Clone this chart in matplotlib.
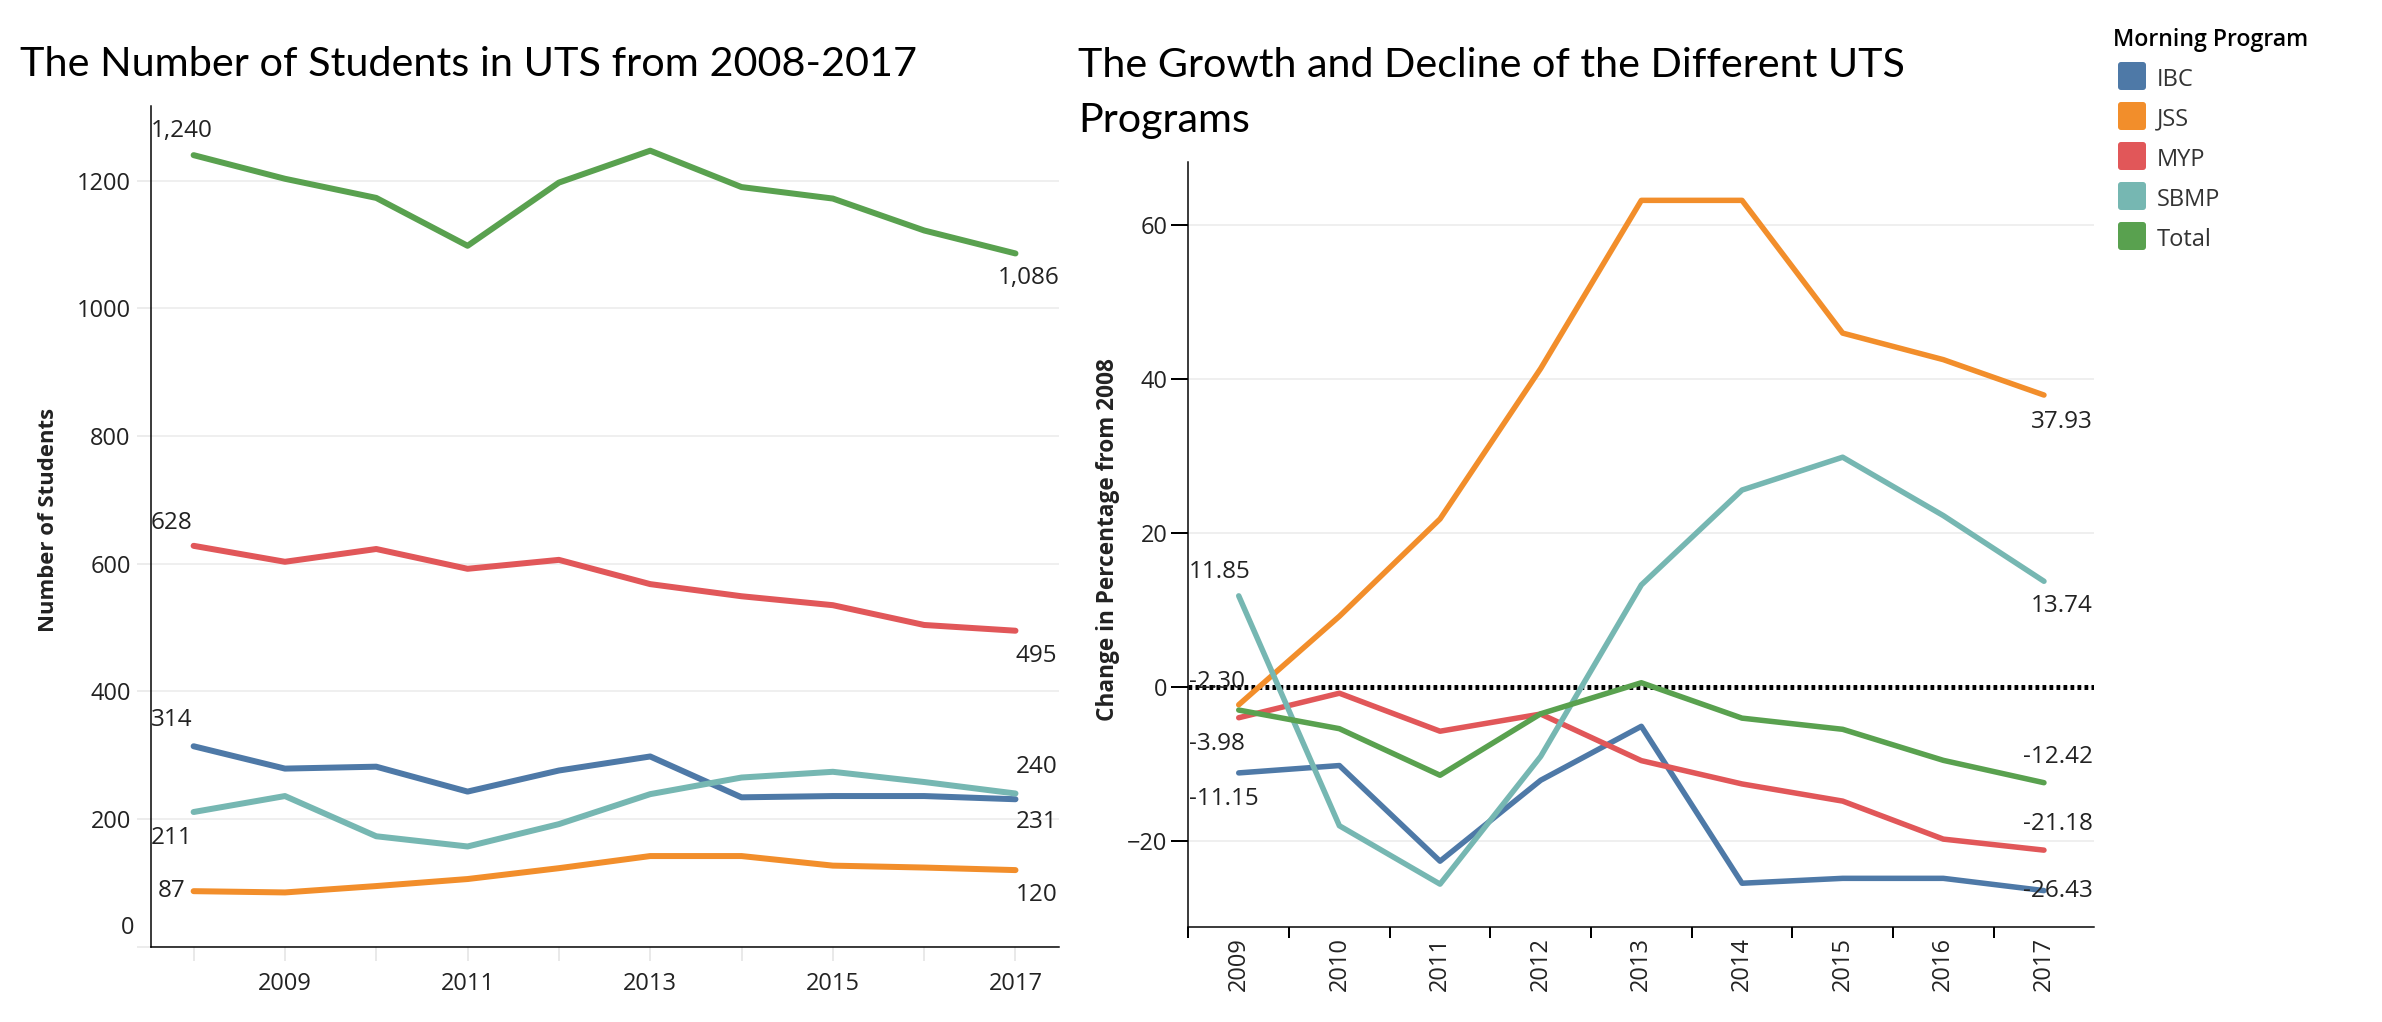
import matplotlib
matplotlib.use("Agg")
import matplotlib.pyplot as plt
from matplotlib.patches import FancyBboxPatch
from matplotlib.transforms import IdentityTransform

# ---------------- data ----------------
years = [2008, 2009, 2010, 2011, 2012, 2013, 2014, 2015, 2016, 2017]
programs = ["IBC", "JSS", "MYP", "SBMP", "Total"]
ibc = [314, 279, 282, 243, 276, 298, 234, 236, 236, 231]
jss = [87, 85, 95, 106, 123, 142, 142, 127, 124, 120]
myp = [628, 603, 623, 592, 606, 568, 549, 535, 504, 495]
sbmp = [211, 236, 173, 157, 192, 239, 265, 274, 258, 240]
total = [1240, 1203, 1173, 1098, 1197, 1247, 1190, 1172, 1122, 1086]
series = {"IBC": ibc, "JSS": jss, "MYP": myp, "SBMP": sbmp, "Total": total}
colors = {"IBC": "#4e79a7", "JSS": "#f28e2b", "MYP": "#e15759",
          "SBMP": "#76b7b2", "Total": "#59a14f"}

left_yticks = [0, 200, 400, 600, 800, 1000, 1200]
right_yticks = [-20, 0, 20, 40, 60]
change_years = years[1:]

W, H = 2382, 1022
fig = plt.figure(figsize=(W / 100, H / 100), dpi=100)

NUM = "Open Sans"
TXT = "#222222"
TICK_FS = 17
VAL_FS = 17.5

def px(v):
    return v * 72 / 100.0

def box(l, t, r, b):
    return [l / W, 1 - b / H, (r - l) / W, (b - t) / H]

axL = fig.add_axes(box(150.7, 106, 1059.3, 946.7))
axR = fig.add_axes(box(1188.4, 162, 2094.3, 927.3))

# ---------------- left chart ----------------
for p in programs:
    axL.plot(years, series[p], color=colors[p], lw=px(6), solid_capstyle="round",
             solid_joinstyle="round", zorder=3)
axL.set_xlim(2007.53, 2017.48)
axL.set_ylim(0, 1317)
axL.set_yticks(left_yticks)
axL.set_yticklabels(["" if v == 0 else str(v) for v in left_yticks])
axL.set_xticks(years)
axL.set_xticklabels([str(y) if y % 2 == 1 else "" for y in years])
axL.tick_params(axis="y", length=10, width=px(2), color="#ececec", pad=px(6),
                labelsize=TICK_FS, labelcolor=TXT)
axL.tick_params(axis="x", length=10, width=px(1.5), color="#e3e3e3", pad=px(11),
                labelsize=TICK_FS, labelcolor=TXT)
for lbl in axL.get_xticklabels() + axL.get_yticklabels():
    lbl.set_fontfamily(NUM)
axL.annotate("0", xy=(0, 0), xycoords=("axes fraction", "data"), xytext=(-16.7, 19),
             textcoords="offset pixels", ha="right", va="center", fontsize=TICK_FS,
             family=NUM, color=TXT)
axL.grid(axis="y", color="#efefef", lw=px(2), zorder=0)
for s in ["top", "right"]:
    axL.spines[s].set_visible(False)
for s in ["left", "bottom"]:
    axL.spines[s].set_color("black")
    axL.spines[s].set_linewidth(px(1.5))
ylabL = axL.set_ylabel("Number of Students", fontsize=14, fontweight="bold",
                       family=NUM, color=TXT, va="center")
axL.yaxis.set_label_coords(-102 / 908.6, 0.5 + (526 - 520) / 840.7)

# value labels left chart
startL = {"Total": (-43, 24, "left"), "MYP": (-43, 23, "left"), "IBC": (-43, 26, "left"),
          "SBMP": (-43, -26, "left"), "JSS": (-8, 0, "right")}
endL = {"Total": (44, -25), "MYP": (42, -25), "SBMP": (42, 26), "IBC": (42, -23),
        "JSS": (42, -25)}
for p in programs:
    v0 = series[p][0]
    dx, dy, ha = startL[p]
    axL.annotate(f"{v0:,}", xy=(years[0], v0), xytext=(dx, dy), textcoords="offset pixels",
                 ha=ha, va="center", fontsize=VAL_FS, family=NUM, color=TXT, zorder=5)
    v1 = series[p][-1]
    dx, dy = endL[p]
    axL.annotate(f"{v1:,}", xy=(years[-1], v1), xytext=(dx, dy), textcoords="offset pixels",
                 ha="right", va="center", fontsize=VAL_FS, family=NUM, color=TXT, zorder=5)

# ---------------- right chart ----------------
xpos = list(range(len(change_years)))
pct = {}
for p in programs:
    base = series[p][0]
    pct[p] = [(v / base - 1) * 100 for v in series[p][1:]]
axR.axhline(0, color="black", lw=px(5), linestyle=(0, (0.75, 0.65)), zorder=2)
for p in programs:
    axR.plot(xpos, pct[p], color=colors[p], lw=px(5.5), solid_capstyle="round",
             solid_joinstyle="round", zorder=3)
axR.set_xlim(-0.5, len(change_years) - 0.5)
axR.set_ylim(-31.2, 68.2)
axR.set_yticks(right_yticks)
axR.set_xticks(xpos)
axR.set_xticklabels([str(y) for y in change_years], rotation=90)
axR.set_xticks([i - 0.5 for i in range(len(change_years))], minor=True)
axR.tick_params(axis="x", which="major", length=0, pad=px(9.5), labelsize=TICK_FS,
                labelcolor=TXT)
axR.tick_params(axis="x", which="minor", length=8, width=px(2), color="black")
axR.tick_params(axis="y", length=12, width=px(2), color="black", pad=px(4),
                labelsize=TICK_FS, labelcolor=TXT)
for lbl in axR.get_xticklabels() + axR.get_yticklabels():
    lbl.set_fontfamily(NUM)
axR.grid(axis="y", color="#efefef", lw=px(2), zorder=0)
for s in ["top", "right"]:
    axR.spines[s].set_visible(False)
for s in ["left", "bottom"]:
    axR.spines[s].set_color("black")
    axR.spines[s].set_linewidth(px(1.5))
ylabR = axR.set_ylabel("Change in Percentage from 2008", fontsize=14, fontweight="bold",
                       family=NUM, color=TXT, va="center")
axR.yaxis.set_label_coords(-80 / 905.9, 0.5 + (544.6 - 540) / 765.3)

startR = {"SBMP": (-50, 24), "JSS": (-50, 23), "MYP": (-50, -26), "IBC": (-50, -26)}
endR = {"JSS": (49, -27), "SBMP": (49, -25), "Total": (49, 26), "MYP": (49, 26),
        "IBC": (49, 0)}
for p, (dx, dy) in startR.items():
    v = pct[p][0]
    axR.annotate(f"{v:.2f}", xy=(xpos[0], v), xytext=(dx, dy), textcoords="offset pixels",
                 ha="left", va="center", fontsize=VAL_FS, family=NUM, color=TXT, zorder=5)
for p, (dx, dy) in endR.items():
    v = pct[p][-1]
    axR.annotate(f"{v:.2f}", xy=(xpos[-1], v), xytext=(dx, dy), textcoords="offset pixels",
                 ha="right", va="center", fontsize=VAL_FS, family=NUM, color=TXT, zorder=5)

# ---------------- titles ----------------
t1 = fig.text(19.6 / W, 1 - 76 / H, "The Number of Students in UTS from 2008-2017",
              family="Lato", fontsize=29, color="black", va="baseline", ha="left")
t2a = fig.text(1078 / W, 1 - 76.7 / H, "The Growth and Decline of the Different UTS",
               family="Lato", fontsize=29, color="black", va="baseline", ha="left")
t2b = fig.text(1078 / W, 1 - 131.7 / H, "Programs",
               family="Lato", fontsize=29, color="black", va="baseline", ha="left")

# ---------------- legend ----------------
lt = fig.text(2113 / W, 1 - 45.7 / H, "Morning Program", family=NUM, fontweight="semibold",
              fontsize=15, color="black", va="baseline", ha="left")
for i, p in enumerate(programs):
    top = 62 + 40 * i
    fig.patches.append(FancyBboxPatch((2118, H - top - 28), 28, 28,
                                      boxstyle="round,pad=0,rounding_size=3",
                                      transform=IdentityTransform(), facecolor=colors[p],
                                      edgecolor="none", figure=fig))
    fig.text(2157 / W, 1 - (85.7 + 40 * i) / H, p, family=NUM, fontsize=17,
             color="#333333", va="baseline", ha="left")

# ---------------- fit text widths ----------------
fig.canvas.draw()
r = fig.canvas.get_renderer()

def fit_w(t, target):
    w = t.get_window_extent(renderer=r).width
    t.set_fontsize(t.get_fontsize() * target / w)

def fit_h(t, target):
    h = t.get_window_extent(renderer=r).height
    t.set_fontsize(t.get_fontsize() * target / h)

fit_w(t1, 896)
fit_w(t2a, 827)
t2b.set_fontsize(t2a.get_fontsize())
fit_w(lt, 197)
fit_h(ylabL, 225)
fit_h(ylabR, 364)

fig.savefig("out.png", dpi=100, facecolor="white")
